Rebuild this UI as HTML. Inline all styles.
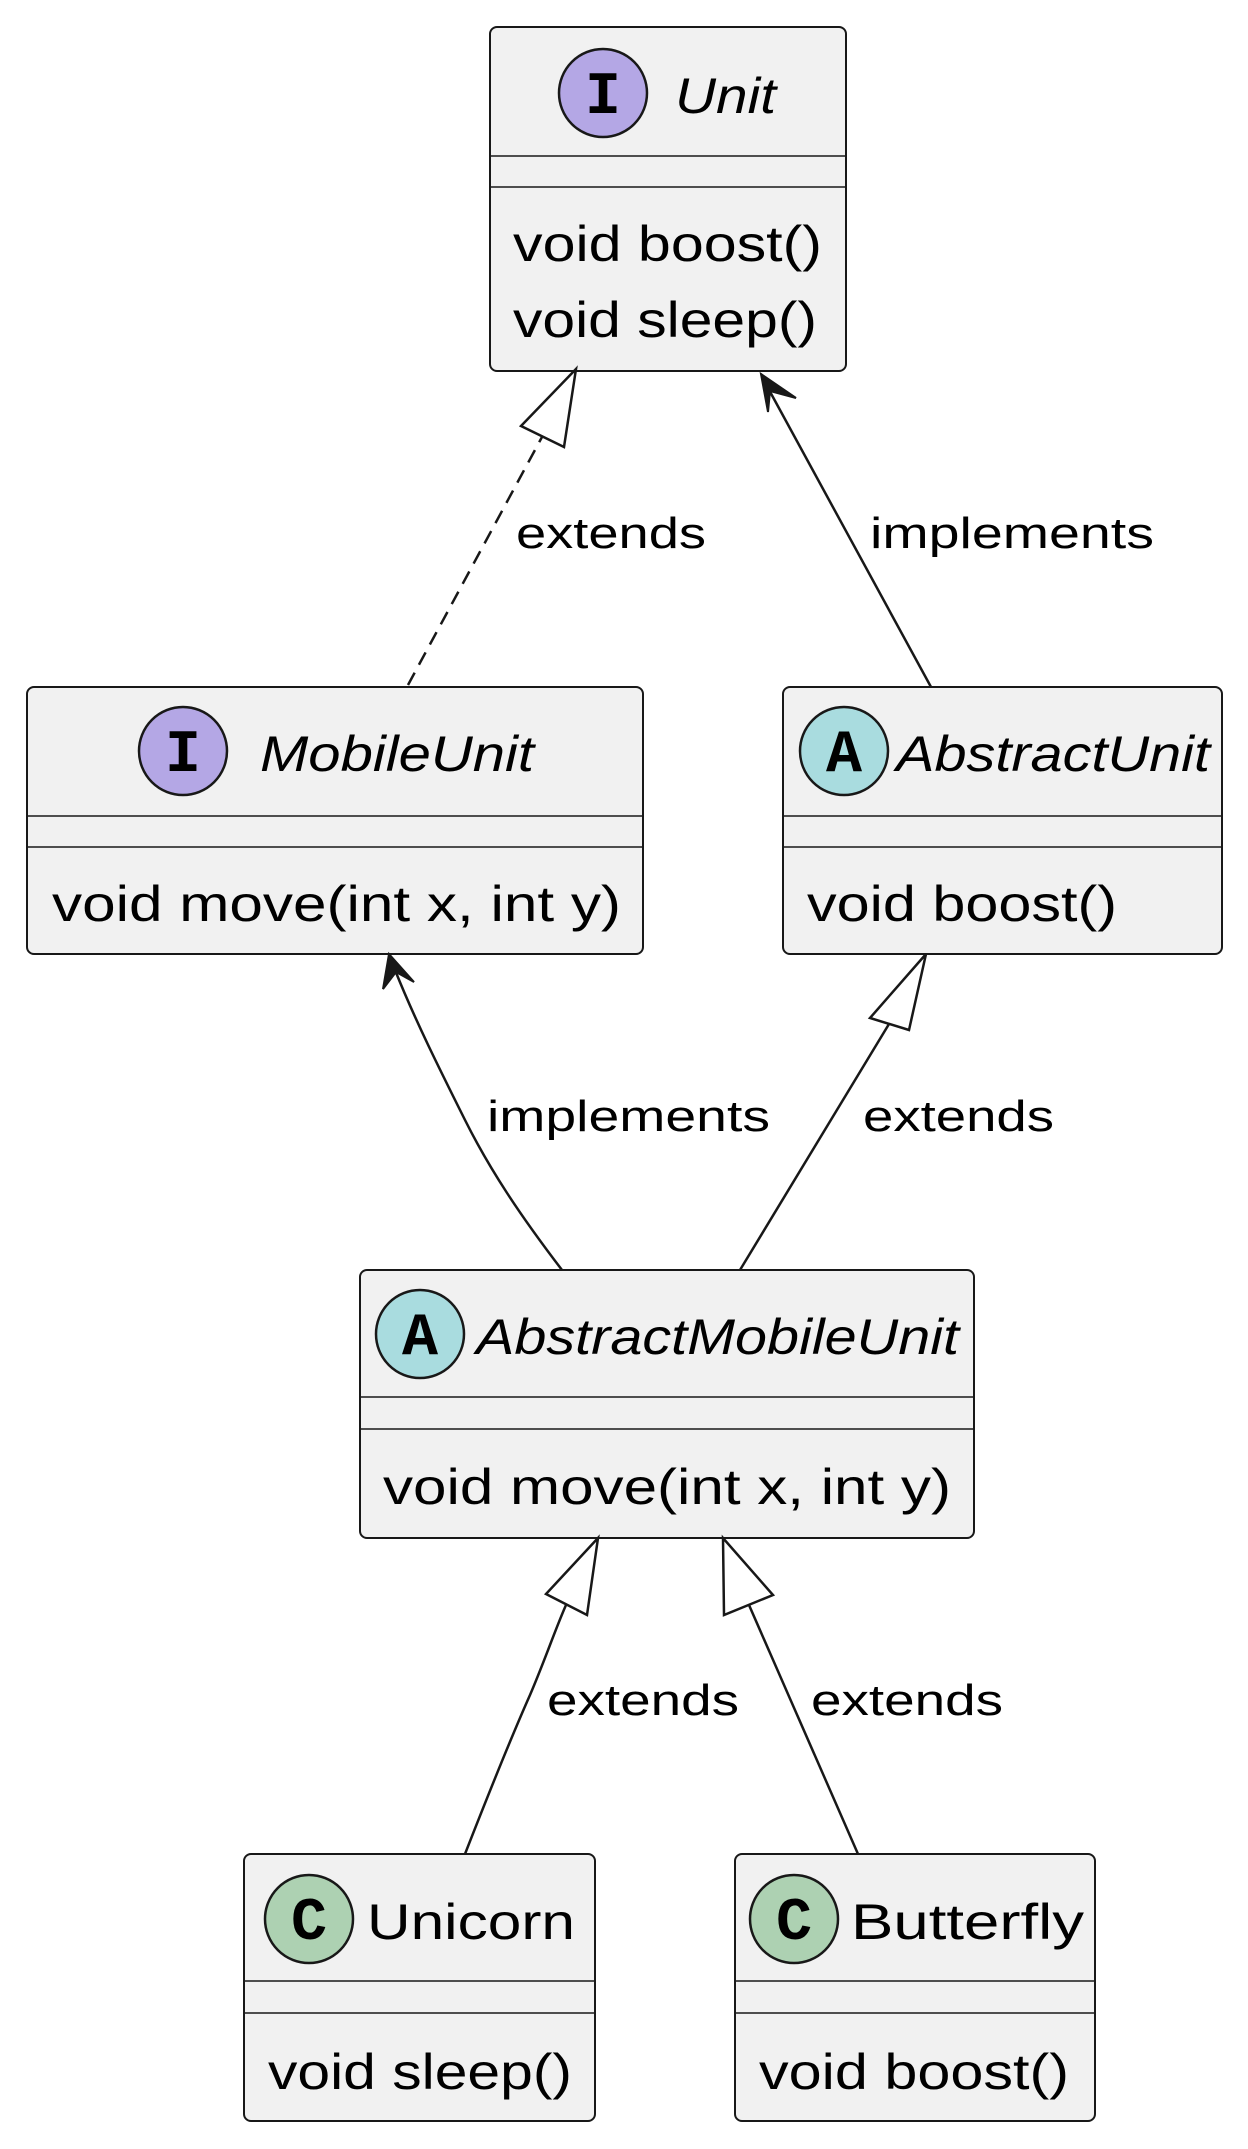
<!DOCTYPE html>
<html><head><meta charset="utf-8"><style>html,body{margin:0;padding:0;background:#fff}svg{display:block}</style></head>
<body>
<svg width="1248" height="2149" viewBox="0 0 1248 2149" xmlns="http://www.w3.org/2000/svg" font-family="'Liberation Sans', 'DejaVu Sans', sans-serif">
<g stroke="#181818" stroke-width="2" fill="#F1F1F1">
<rect x="490" y="27" width="356" height="344" rx="7"/>
<rect x="27" y="687" width="616" height="267" rx="7"/>
<rect x="783" y="687" width="439" height="267" rx="7"/>
<rect x="360" y="1270" width="614" height="268" rx="7"/>
<rect x="244" y="1854" width="351" height="267" rx="7"/>
<rect x="735" y="1854" width="360" height="267" rx="7"/>
</g>
<g stroke="#181818" stroke-width="1.5">
<line x1="491" y1="156" x2="845" y2="156"/><line x1="491" y1="187" x2="845" y2="187"/>
<line x1="28" y1="816" x2="642" y2="816"/><line x1="28" y1="847" x2="642" y2="847"/>
<line x1="784" y1="816" x2="1221" y2="816"/><line x1="784" y1="847" x2="1221" y2="847"/>
<line x1="361" y1="1397" x2="973" y2="1397"/><line x1="361" y1="1429" x2="973" y2="1429"/>
<line x1="245" y1="1981" x2="594" y2="1981"/><line x1="245" y1="2013" x2="594" y2="2013"/>
<line x1="736" y1="1981" x2="1094" y2="1981"/><line x1="736" y1="2013" x2="1094" y2="2013"/>
</g>
<g stroke="#181818" stroke-width="2.5">
<circle cx="603" cy="93" r="44" fill="#B4A7E5"/>
<circle cx="183" cy="751" r="44" fill="#B4A7E5"/>
<circle cx="844" cy="751" r="44" fill="#A9DCDF"/>
<circle cx="420" cy="1334" r="44" fill="#A9DCDF"/>
<circle cx="309" cy="1919" r="44" fill="#ADD1B2"/>
<circle cx="794" cy="1919" r="44" fill="#ADD1B2"/>
</g>
<g font-family="'Liberation Mono', monospace" font-weight="bold" font-size="60" text-anchor="middle" fill="#000">
<text x="603" y="113">I</text><text x="183" y="771">I</text>
<text x="844" y="771">A</text><text x="420" y="1354">A</text>
<text x="309" y="1939">C</text><text x="794" y="1939">C</text>
</g>
<g font-size="50" fill="#000">
<text x="675" y="113" font-style="italic" textLength="101" lengthAdjust="spacingAndGlyphs">Unit</text>
<text x="513" y="261" textLength="309" lengthAdjust="spacingAndGlyphs">void boost()</text>
<text x="513" y="337" textLength="304" lengthAdjust="spacingAndGlyphs">void sleep()</text>
<text x="260" y="771" font-style="italic" textLength="274" lengthAdjust="spacingAndGlyphs">MobileUnit</text>
<text x="52" y="921" textLength="569" lengthAdjust="spacingAndGlyphs">void move(int x, int y)</text>
<text x="896" y="771" font-style="italic" textLength="314" lengthAdjust="spacingAndGlyphs">AbstractUnit</text>
<text x="807" y="921" textLength="310" lengthAdjust="spacingAndGlyphs">void boost()</text>
<text x="476" y="1354" font-style="italic" textLength="483" lengthAdjust="spacingAndGlyphs">AbstractMobileUnit</text>
<text x="383" y="1504" textLength="568" lengthAdjust="spacingAndGlyphs">void move(int x, int y)</text>
<text x="367" y="1939" textLength="208" lengthAdjust="spacingAndGlyphs">Unicorn</text>
<text x="268" y="2089" textLength="304" lengthAdjust="spacingAndGlyphs">void sleep()</text>
<text x="851" y="1939" textLength="233" lengthAdjust="spacingAndGlyphs">Butterfly</text>
<text x="759" y="2089" textLength="310" lengthAdjust="spacingAndGlyphs">void boost()</text>
</g>
<g font-size="44" fill="#000">
<text x="516" y="548" textLength="190" lengthAdjust="spacingAndGlyphs">extends</text>
<text x="870" y="548" textLength="284" lengthAdjust="spacingAndGlyphs">implements</text>
<text x="487" y="1131" textLength="283" lengthAdjust="spacingAndGlyphs">implements</text>
<text x="863" y="1131" textLength="191" lengthAdjust="spacingAndGlyphs">extends</text>
<text x="547" y="1715" textLength="192" lengthAdjust="spacingAndGlyphs">extends</text>
<text x="811" y="1715" textLength="192" lengthAdjust="spacingAndGlyphs">extends</text>
</g>
<g stroke="#181818" stroke-width="2.5" fill="none">
<line x1="408" y1="685" x2="542" y2="437" stroke-dasharray="14,9"/>
<line x1="931" y1="687" x2="768" y2="388"/>
<path d="M562,1270 C520,1215 490,1170 465,1120 C440,1070 415,1020 395,970"/>
<line x1="740" y1="1270" x2="889" y2="1024"/>
<path d="M465,1854 C490,1790 510,1740 530,1695 C545,1660 555,1630 566,1605"/>
<line x1="858" y1="1854" x2="749" y2="1605"/>
</g>
<g stroke="#181818" stroke-width="2.5" fill="#fff">
<polygon points="576,369 521,426 564,447"/>
<polygon points="926,954 870,1018 909,1030"/>
<polygon points="598,1538 546,1594 587,1615"/>
<polygon points="723,1538 724,1615 773,1595"/>
</g>
<g fill="#181818" stroke="#181818" stroke-width="2">
<polygon points="761,374 796,398 770,391 768,412"/>
<polygon points="389,954 414,982 396,972 383,989"/>
</g>
</svg>
</body></html>
